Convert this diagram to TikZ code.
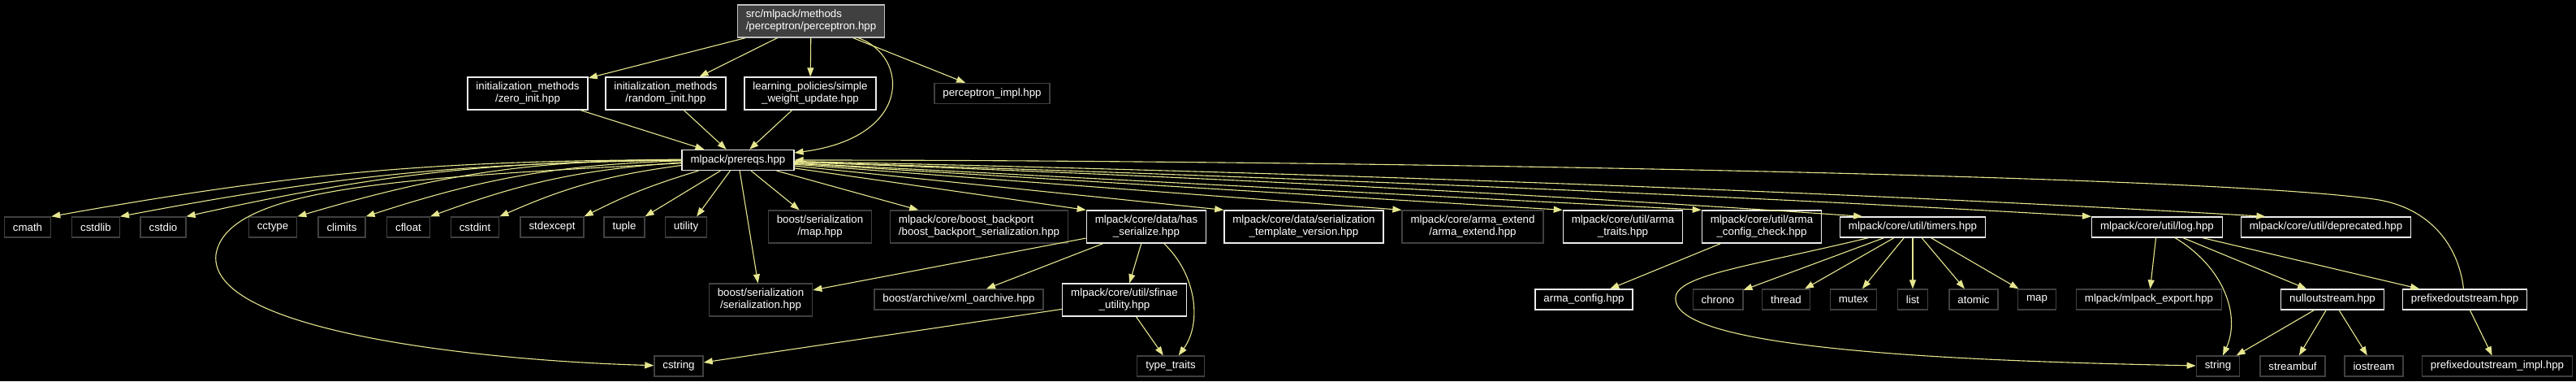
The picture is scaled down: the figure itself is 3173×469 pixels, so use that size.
\documentclass[tikz,border=0pt]{standalone}
\usepackage{fontspec}
\setmainfont{Liberation Sans}
\usepackage{tikz}
\usetikzlibrary{arrows.meta}
\definecolor{edgeline}{RGB}{230,230,143}
\definecolor{linked}{RGB}{235,235,235}
\definecolor{plain}{RGB}{64,64,64}
\definecolor{rootfill}{RGB}{64,64,64}
\definecolor{rootline}{RGB}{191,191,191}

\begin{document}
\begin{tikzpicture}[
  x=1pt, y=1pt,
  hdr/.style={draw=linked, fill=black, text=white, font=\fontsize{13.3}{15}\selectfont, align=center, inner xsep=10.5pt, inner ysep=2pt, minimum height=25pt, line width=1.3pt},
  sys/.style={hdr, draw=plain},
  root/.style={hdr, draw=rootline, fill=rootfill, align=left},
  two/.style={minimum height=40pt},
  inc/.style={-{Triangle[length=11pt, width=8pt]}, line width=1.1pt, color=edgeline}
]
\fill[black] (0,0) rectangle (3173,469);
\useasboundingbox (0,0) rectangle (3173,469);

% top
\node[root, two] (perc) at (999, 443) {src/mlpack/methods\\/perceptron/perceptron.hpp};

\node[hdr, two] (zinit) at (650, 354) {initialization\_methods\\/zero\_init.hpp};
\node[hdr, two] (rinit) at (820, 354) {initialization\_methods\\/random\_init.hpp};
\node[hdr, two] (swu) at (998, 354) {learning\_policies/simple\\\_weight\_update.hpp};
\node[sys] (pimpl) at (1222, 354) {perceptron\_impl.hpp};

\node[hdr] (prereqs) at (909, 272) {mlpack/prereqs.hpp};

% row of includes of prereqs
\node[sys] (cmath) at (34, 189.5) {cmath};
\node[sys] (cstdlib) at (118, 189.5) {cstdlib};
\node[sys] (cstdio) at (201, 189.5) {cstdio};
\node[sys] (cctype) at (336, 189.5) {cctype};
\node[sys] (climits) at (421, 189.5) {climits};
\node[sys] (cfloat) at (503, 189.5) {cfloat};
\node[sys] (cstdint) at (585, 189.5) {cstdint};
\node[sys] (stdexcept) at (680, 189.5) {stdexcept};
\node[sys] (tuple) at (769, 189.5) {tuple};
\node[sys] (utility) at (845, 189.5) {utility};
\node[sys, two] (bsmap) at (1010, 190) {boost/serialization\\/map.hpp};
\node[sys, two, align=left] (backport) at (1206, 190) {mlpack/core/boost\_backport\\/boost\_backport\_serialization.hpp};
\node[hdr, two] (hasser) at (1412, 190) {mlpack/core/data/has\\\_serialize.hpp};
\node[hdr, two] (tplver) at (1606, 190) {mlpack/core/data/serialization\\\_template\_version.hpp};
\node[sys, two] (armaext) at (1814, 190) {mlpack/core/arma\_extend\\/arma\_extend.hpp};
\node[hdr, two] (armatr) at (1999, 190) {mlpack/core/util/arma\\\_traits.hpp};
\node[hdr, two] (armachk) at (2170, 190) {mlpack/core/util/arma\\\_config\_check.hpp};
\node[hdr] (timers) at (2356, 189.5) {mlpack/core/util/timers.hpp};
\node[hdr] (log) at (2657, 189.5) {mlpack/core/util/log.hpp};
\node[hdr] (deprec) at (2865, 189.5) {mlpack/core/util/deprecated.hpp};

% second level
\node[sys, two] (bsser) at (937, 100) {boost/serialization\\/serialization.hpp};
\node[sys] (xmloa) at (1181, 100.5) {boost/archive/xml\_oarchive.hpp};
\node[hdr, two] (sfinae) at (1385, 100) {mlpack/core/util/sfinae\\\_utility.hpp};
\node[hdr] (armacfg) at (1951, 100.5) {arma\_config.hpp};
\node[sys] (chrono) at (2116, 100.5) {chrono};
\node[sys] (thread) at (2200, 100.5) {thread};
\node[sys] (mutex) at (2283, 100.5) {mutex};
\node[sys] (list) at (2356, 100.5) {list};
\node[sys] (atomic) at (2431, 100.5) {atomic};
\node[sys] (stdmap) at (2509, 100.5) {map};
\node[sys] (mlexport) at (2647, 100.5) {mlpack/mlpack\_export.hpp};
\node[hdr] (nullout) at (2873, 100.5) {nulloutstream.hpp};
\node[hdr] (prefout) at (3036, 100.5) {prefixedoutstream.hpp};

% bottom
\node[sys] (cstring) at (836, 18.5) {cstring};
\node[sys] (typetr) at (1442, 18.5) {type\_traits};
\node[sys] (str) at (2732, 18.5) {string};
\node[sys] (streambuf) at (2824, 18.5) {streambuf};
\node[sys] (iostream) at (2924, 18.5) {iostream};
\node[sys] (prefimpl) at (3076, 18.5) {prefixedoutstream\_impl.hpp};

% perceptron.hpp
\draw[inc] (perc) -- (zinit);
\draw[inc] (perc) -- (rinit);
\draw[inc] (perc) -- (swu);
\draw[inc] (perc) .. controls (1120,400) and (1125,300) .. (prereqs);
\draw[inc] (perc) -- (pimpl);
\draw[inc] (zinit) -- (prereqs);
\draw[inc] (rinit) -- (prereqs);
\draw[inc] (swu) -- (prereqs);

% prereqs.hpp
\draw[inc] (prereqs) to[bend right=5] (cmath.north east);
\draw[inc] (prereqs) to[bend right=5] (cstdlib.north east);
\draw[inc] (prereqs) to[bend right=6] (cstdio.north east);
\draw[inc] (prereqs) to[bend right=8] (cctype.north east);
\draw[inc] (prereqs) to[bend right=8] (climits.north east);
\draw[inc] (prereqs) to[bend right=8] (cfloat.north east);
\draw[inc] (prereqs) to[bend right=8] (cstdint.north east);
\draw[inc] (prereqs) to[bend right=5] (stdexcept.north east);
\draw[inc] (prereqs) -- (tuple.north east);
\draw[inc] (prereqs) -- (utility.45);
\draw[inc] (prereqs) .. controls (500,250) and (280,240) .. (266,156) .. controls (255,60) and (600,25) .. (cstring);
\draw[inc] (prereqs) -- (bsser);
\draw[inc] (prereqs) -- (bsmap);
\draw[inc] (prereqs) -- (backport);
\draw[inc] (prereqs) -- (hasser.north west);
\draw[inc] (prereqs) -- (tplver.north west);
\draw[inc] (prereqs) -- (armaext.north west);
\draw[inc] (prereqs) -- (armatr.north west);
\draw[inc] (prereqs) -- (armachk.north west);
\draw[inc] (prereqs) .. controls (1391,255) and (1874,232) .. (timers.168);
\draw[inc] (prereqs) .. controls (1492,254) and (2074,232) .. (log.north west);
\draw[inc] (prereqs) .. controls (1561,258) and (2213,236) .. (deprec.170);

% has_serialize.hpp, sfinae_utility.hpp
\draw[inc] (hasser) -- (bsser);
\draw[inc] (hasser) -- (xmloa);
\draw[inc] (hasser) -- (sfinae);
\draw[inc] (hasser) .. controls (1475,130) and (1480,70) .. (typetr);
\draw[inc] (sfinae) -- (cstring);
\draw[inc] (sfinae) -- (typetr);

\draw[inc] (armachk) -- (armacfg);

% timers.hpp
\draw[inc] (timers) .. controls (2150,140) and (2060,130) .. (2064,100) .. controls (2068,40) and (2400,25) .. (str);
\draw[inc] (timers) -- (chrono);
\draw[inc] (timers) -- (thread);
\draw[inc] (timers) -- (mutex);
\draw[inc] (timers) -- (list);
\draw[inc] (timers) -- (atomic);
\draw[inc] (timers) -- (stdmap);

% log.hpp
\draw[inc] (log) -- (mlexport);
\draw[inc] (log) .. controls (2740,140) and (2760,80) .. (str);
\draw[inc] (log) -- (nullout);
\draw[inc] (log) -- (prefout);
\draw[inc] (nullout) -- (str);
\draw[inc] (nullout) -- (streambuf);
\draw[inc] (nullout) -- (iostream);
\draw[inc] (prefout) -- (prefimpl);
\draw[inc] (prefout) .. controls (3028,170) and (2990,215) .. (2924,224) .. controls (2700,255) and (1600,272) .. (prereqs);
\end{tikzpicture}
\end{document}
